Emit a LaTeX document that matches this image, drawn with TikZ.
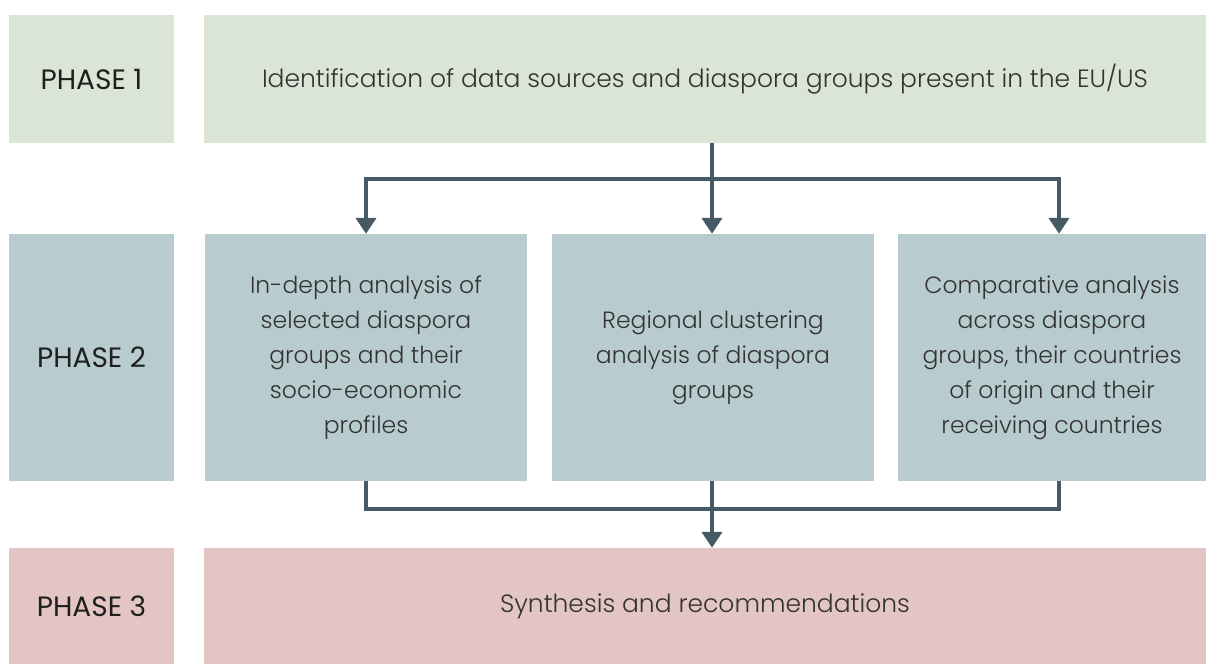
\documentclass[tikz,border=0pt]{standalone}
\usepackage{fontspec}
\setmainfont{Poppins Light}
\newfontfamily\labelfont{Poppins}
\usetikzlibrary{arrows.meta}
\definecolor{phaseone}{HTML}{DAE5D5}
\definecolor{phasetwo}{HTML}{B8CBCF}
\definecolor{phasethree}{HTML}{E3C6C3}
\definecolor{flowline}{HTML}{455A64}
\definecolor{bodytext}{HTML}{333333}
\begin{document}
\begin{tikzpicture}[x=1pt,y=-1pt,
  box/.style={fill=#1, draw=none, inner sep=0pt, text=bodytext, align=center,
    font=\fontsize{25}{35}\selectfont},
  stepbox/.style={box=phasetwo, minimum height=247pt,
    font=\fontsize{23.5}{35}\selectfont},
  phaselabel/.style={box=#1, minimum width=165pt, text=black!88,
    font=\labelfont\fontsize{28}{30}\selectfont},
  flow/.style={draw=flowline, line width=4pt},
  flowarrow/.style={flow, -{Triangle[width=20pt,length=16pt]}}]
\useasboundingbox (0,0) rectangle (1206,664);

% phase labels
\node[phaselabel=phaseone, minimum height=128pt] (l1) at (91.5,79) {PHASE 1};
\node[phaselabel=phasetwo, minimum height=247pt] (l2) at (91.5,357.5) {PHASE 2};
\node[phaselabel=phasethree, minimum height=116pt] (l3) at (91.5,606) {PHASE 3};

% phase 1
\node[box=phaseone, minimum width=1002pt, minimum height=128pt] (p1) at (705,79)
  {Identification of data sources and diaspora groups present in the EU/US};

% phase 2
\node[stepbox, minimum width=322pt] (a) at (366,357.5)
  {In-depth analysis of\\selected diaspora\\groups and their\\socio-economic\\profiles};
\node[stepbox, minimum width=322pt] (b) at (713,357.5)
  {Regional clustering\\analysis of diaspora\\groups};
\node[stepbox, minimum width=308pt] (c) at (1052,357.5)
  {Comparative analysis\\across diaspora\\groups, their countries\\of origin and their\\receiving countries};

% phase 3
\node[box=phasethree, minimum width=1002pt, minimum height=116pt] (p3) at (705,606)
  {Synthesis and recommendations};

% split from phase 1 into the three analyses
\coordinate (split) at (712,179);
\coordinate (cin) at ([xshift=7pt]c.north);
\draw[flow] (p1.south -| split) -- (split);
\draw[flowarrow] (split) -- (b.north -| split);
\draw[flowarrow] (split) -| (a.north);
\draw[flowarrow] (split) -| (cin);

% merge into phase 3
\coordinate (merge) at (712,509);
\coordinate (cout) at ([xshift=7pt]c.south);
\draw[flow] (a.south) |- (merge);
\draw[flow] (cout) |- (merge);
\draw[flowarrow] (b.south -| merge) -- (p3.north -| merge);
\end{tikzpicture}
\end{document}
